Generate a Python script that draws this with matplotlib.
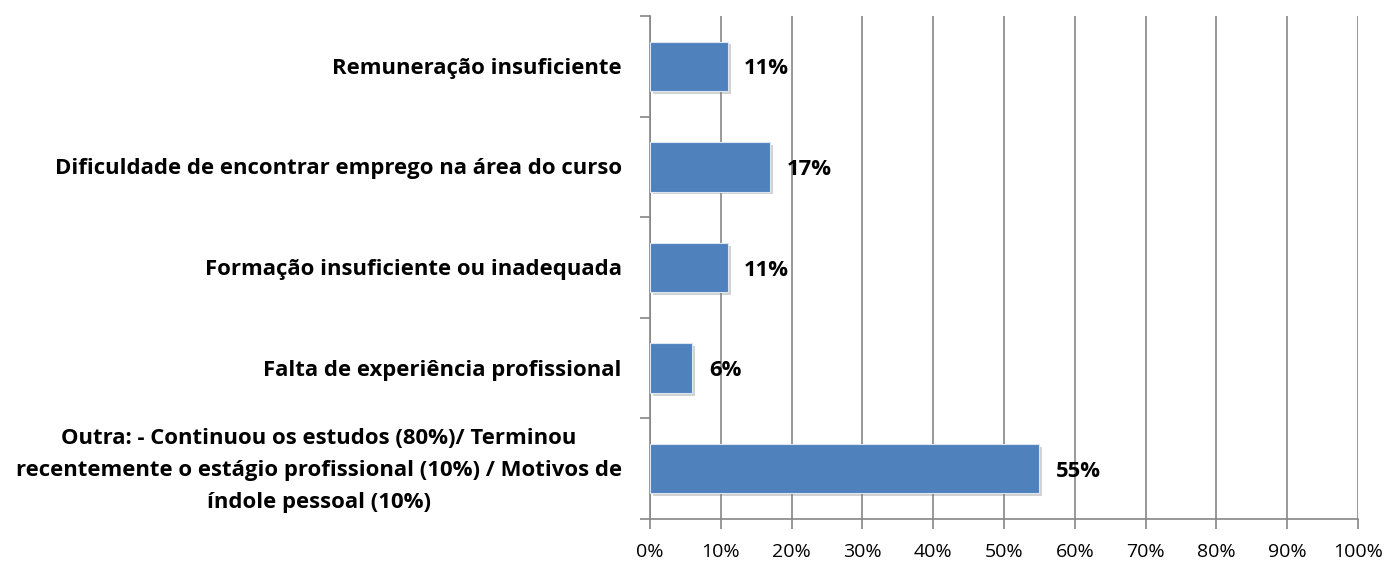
import matplotlib
matplotlib.use("Agg")
import matplotlib.pyplot as plt
import matplotlib.patheffects as pe
from matplotlib.ticker import MultipleLocator, FuncFormatter, FixedLocator

plt.rcParams['font.family'] = ['Open Sans', 'DejaVu Sans']

categories = [
    "Remuneração insuficiente",
    "Dificuldade de encontrar emprego na área do curso",
    "Formação insuficiente ou inadequada",
    "Falta de experiência profissional",
    "Outra: - Continuou os estudos (80%)/ Terminou\nrecentemente o estágio profissional (10%) / Motivos de\níndole pessoal (10%)",
]
values = [11, 17, 11, 6, 55]
value_labels = ["11%", "17%", "11%", "6%", "55%"]

fig = plt.figure(figsize=(13.87, 5.61), dpi=100)
ax = fig.add_axes([650/1387, 1-519/561, (1358-650)/1387, (519-16)/561])

ypos = list(range(len(categories)))
bars = ax.barh(ypos, values, height=0.49, color='#4F81BD', edgecolor='#DCE6F2',
               linewidth=0.8, zorder=3)
for b in bars:
    b.set_path_effects([pe.SimplePatchShadow(offset=(2, -2), shadow_rgbFace='#808080', alpha=0.35),
                        pe.Normal()])

ax.set_xlim(0, 100)
ax.set_ylim(len(categories) - 0.5, -0.5)
ax.xaxis.set_major_locator(MultipleLocator(10))
ax.xaxis.set_major_formatter(FuncFormatter(lambda v, p: f"{int(v)}%"))
ax.grid(axis='x', color='#868686', linewidth=1.2, zorder=0)
ax.set_axisbelow(True)

ax.set_yticks(ypos)
ax.set_yticklabels([])
ax.yaxis.set_minor_locator(FixedLocator([i - 0.5 for i in range(len(categories) + 1)]))
ax.tick_params(axis='y', which='major', length=0, pad=0)
ax.tick_params(axis='y', which='minor', length=7, width=1.2, color='#868686')
ax.tick_params(axis='x', which='major', length=7, width=1.2, color='#868686',
               labelsize=14, pad=10)

for s in ['top', 'right']:
    ax.spines[s].set_visible(False)
for s in ['left', 'bottom']:
    ax.spines[s].set_color('#868686')
    ax.spines[s].set_linewidth(1.2)

for y, v, t in zip(ypos, values, value_labels):
    ax.text(v + 2.3, y + 0.025, t, va='center', ha='left', fontsize=15.8, fontweight='bold',
            color='black', zorder=4)

for y, c in zip(ypos, categories):
    ax.text(-0.04, y + 0.02, c, transform=ax.get_yaxis_transform(), ha='right', va='center',
            multialignment='center', fontsize=15.9, fontweight='bold', linespacing=1.68)

fig.savefig("out.png", dpi=100)
